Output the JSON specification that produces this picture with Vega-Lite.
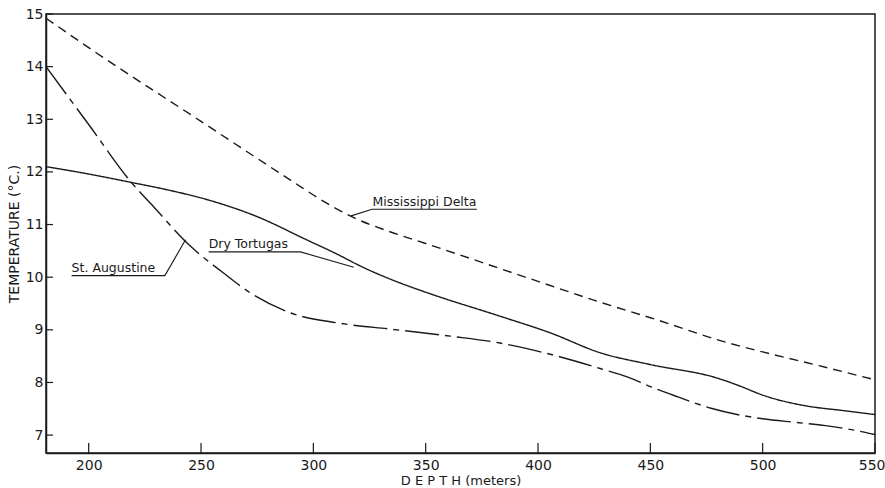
{
  "$schema": "https://vega.github.io/schema/vega-lite/v6.json",
  "width": 829,
  "height": 439,
  "autosize": {"type": "none"},
  "padding": {"left": 46, "top": 14, "right": 10, "bottom": 35},
  "background": "white",
  "config": {
    "font": "DejaVu Sans",
    "view": {"stroke": "#1a1a1a", "strokeWidth": 1.5},
    "axis": {
      "grid": false,
      "ticks": false,
      "domainColor": "#1a1a1a",
      "domainWidth": 1.5,
      "labelColor": "#1a1a1a",
      "labelFontSize": 14,
      "labelFlush": false,
      "labelOverlap": false,
      "titleColor": "#1a1a1a",
      "titleFontWeight": "normal"
    }
  },
  "datasets": {
    "curves": [
      {"series": "Mississippi Delta", "depth": 181, "temp": 14.92},
      {"series": "Mississippi Delta", "depth": 200, "temp": 14.36},
      {"series": "Mississippi Delta", "depth": 250, "temp": 12.96},
      {"series": "Mississippi Delta", "depth": 290, "temp": 11.84},
      {"series": "Mississippi Delta", "depth": 305, "temp": 11.43},
      {"series": "Mississippi Delta", "depth": 318, "temp": 11.13},
      {"series": "Mississippi Delta", "depth": 333, "temp": 10.88},
      {"series": "Mississippi Delta", "depth": 350, "temp": 10.64},
      {"series": "Mississippi Delta", "depth": 400, "temp": 9.92},
      {"series": "Mississippi Delta", "depth": 428, "temp": 9.52},
      {"series": "Mississippi Delta", "depth": 450, "temp": 9.23},
      {"series": "Mississippi Delta", "depth": 484, "temp": 8.76},
      {"series": "Mississippi Delta", "depth": 500, "temp": 8.58},
      {"series": "Mississippi Delta", "depth": 525, "temp": 8.32},
      {"series": "Mississippi Delta", "depth": 550, "temp": 8.05},
      {"series": "Dry Tortugas", "depth": 181, "temp": 12.1},
      {"series": "Dry Tortugas", "depth": 200, "temp": 11.96},
      {"series": "Dry Tortugas", "depth": 219, "temp": 11.8},
      {"series": "Dry Tortugas", "depth": 235, "temp": 11.66},
      {"series": "Dry Tortugas", "depth": 253, "temp": 11.47},
      {"series": "Dry Tortugas", "depth": 275, "temp": 11.15},
      {"series": "Dry Tortugas", "depth": 297, "temp": 10.71},
      {"series": "Dry Tortugas", "depth": 310, "temp": 10.45},
      {"series": "Dry Tortugas", "depth": 322, "temp": 10.19},
      {"series": "Dry Tortugas", "depth": 335, "temp": 9.95},
      {"series": "Dry Tortugas", "depth": 351, "temp": 9.7},
      {"series": "Dry Tortugas", "depth": 383, "temp": 9.26},
      {"series": "Dry Tortugas", "depth": 405, "temp": 8.95},
      {"series": "Dry Tortugas", "depth": 428, "temp": 8.56},
      {"series": "Dry Tortugas", "depth": 450, "temp": 8.34},
      {"series": "Dry Tortugas", "depth": 480, "temp": 8.08},
      {"series": "Dry Tortugas", "depth": 490, "temp": 7.93},
      {"series": "Dry Tortugas", "depth": 500, "temp": 7.76},
      {"series": "Dry Tortugas", "depth": 520, "temp": 7.55},
      {"series": "Dry Tortugas", "depth": 535, "temp": 7.47},
      {"series": "Dry Tortugas", "depth": 550, "temp": 7.39},
      {"series": "St. Augustine", "depth": 181, "temp": 14.0},
      {"series": "St. Augustine", "depth": 200, "temp": 12.9},
      {"series": "St. Augustine", "depth": 219, "temp": 11.8},
      {"series": "St. Augustine", "depth": 228, "temp": 11.38},
      {"series": "St. Augustine", "depth": 245, "temp": 10.6},
      {"series": "St. Augustine", "depth": 260, "temp": 10.08},
      {"series": "St. Augustine", "depth": 272, "temp": 9.7},
      {"series": "St. Augustine", "depth": 290, "temp": 9.32},
      {"series": "St. Augustine", "depth": 311, "temp": 9.13},
      {"series": "St. Augustine", "depth": 335, "temp": 9.01},
      {"series": "St. Augustine", "depth": 361, "temp": 8.88},
      {"series": "St. Augustine", "depth": 383, "temp": 8.75},
      {"series": "St. Augustine", "depth": 405, "temp": 8.54},
      {"series": "St. Augustine", "depth": 428, "temp": 8.26},
      {"series": "St. Augustine", "depth": 440, "temp": 8.1},
      {"series": "St. Augustine", "depth": 450, "temp": 7.92},
      {"series": "St. Augustine", "depth": 462, "temp": 7.73},
      {"series": "St. Augustine", "depth": 477, "temp": 7.51},
      {"series": "St. Augustine", "depth": 490, "temp": 7.38},
      {"series": "St. Augustine", "depth": 500, "temp": 7.31},
      {"series": "St. Augustine", "depth": 515, "temp": 7.24},
      {"series": "St. Augustine", "depth": 528, "temp": 7.18},
      {"series": "St. Augustine", "depth": 540, "temp": 7.1},
      {"series": "St. Augustine", "depth": 550, "temp": 7.01}
    ],
    "leaders": [
      {"label": "Mississippi Delta", "ord": 1, "depth": 316.5, "temp": 11.16},
      {"label": "Mississippi Delta", "ord": 2, "depth": 326.1, "temp": 11.29},
      {"label": "Mississippi Delta", "ord": 3, "depth": 372.8, "temp": 11.29},
      {"label": "Dry Tortugas", "ord": 1, "depth": 253.4, "temp": 10.48},
      {"label": "Dry Tortugas", "ord": 2, "depth": 294.3, "temp": 10.48},
      {"label": "Dry Tortugas", "ord": 3, "depth": 318.0, "temp": 10.19},
      {"label": "St. Augustine", "ord": 1, "depth": 192.4, "temp": 10.03},
      {"label": "St. Augustine", "ord": 2, "depth": 233.9, "temp": 10.03},
      {"label": "St. Augustine", "ord": 3, "depth": 243.1, "temp": 10.71}
    ],
    "labels": [
      {"label": "Mississippi  Delta", "depth": 326.3, "temp": 11.35},
      {"label": "Dry  Tortugas", "depth": 253.4, "temp": 10.55},
      {"label": "St.  Augustine", "depth": 192.4, "temp": 10.09}
    ],
    "xticks": [
      {"depth": 200}, {"depth": 250}, {"depth": 300}, {"depth": 350},
      {"depth": 400}, {"depth": 450}, {"depth": 500}, {"depth": 550}
    ],
    "yticks": [
      {"temp": 7}, {"temp": 8}, {"temp": 9}, {"temp": 10}, {"temp": 11},
      {"temp": 12}, {"temp": 13}, {"temp": 14}, {"temp": 15}
    ]
  },
  "layer": [
    {
      "data": {"name": "curves"},
      "mark": {"type": "line", "interpolate": "monotone", "stroke": "#1a1a1a", "strokeWidth": 1.4},
      "encoding": {
        "x": {
          "field": "depth",
          "type": "quantitative",
          "scale": {"domain": [181, 550], "nice": false, "zero": false},
          "axis": {
            "values": [200, 250, 300, 350, 400, 450, 500, 550],
            "title": "D E P T H   (meters)",
            "titleFontSize": 13,
            "titlePadding": 2,
            "labelPadding": 5,
            "labelFlush": 1,
            "labelFlushOffset": 10
          }
        },
        "y": {
          "field": "temp",
          "type": "quantitative",
          "scale": {"domain": [6.66, 15], "nice": false, "zero": false},
          "axis": {
            "values": [7, 8, 9, 10, 11, 12, 13, 14, 15],
            "title": "TEMPERATURE  (°C.)",
            "titleFontSize": 14,
            "titlePadding": 4,
            "labelPadding": 3
          }
        },
        "strokeDash": {
          "field": "series",
          "type": "nominal",
          "scale": {
            "domain": ["Mississippi Delta", "Dry Tortugas", "St. Augustine"],
            "range": [[9, 6], [1, 0], [34, 6, 6, 6]]
          },
          "legend": null
        }
      }
    },
    {
      "data": {"name": "xticks"},
      "mark": {"type": "rule", "color": "#1a1a1a", "strokeWidth": 1.2},
      "encoding": {
        "x": {"field": "depth", "type": "quantitative"},
        "y": {"datum": 6.66, "type": "quantitative"},
        "y2": {"datum": 6.85}
      }
    },
    {
      "data": {"name": "yticks"},
      "mark": {"type": "rule", "color": "#1a1a1a", "strokeWidth": 1.2},
      "encoding": {
        "y": {"field": "temp", "type": "quantitative"},
        "x": {"datum": 181, "type": "quantitative"},
        "x2": {"datum": 184.1}
      }
    },
    {
      "data": {"name": "leaders"},
      "mark": {"type": "line", "stroke": "#1a1a1a", "strokeWidth": 1.1},
      "encoding": {
        "x": {"field": "depth", "type": "quantitative"},
        "y": {"field": "temp", "type": "quantitative"},
        "detail": {"field": "label", "type": "nominal"},
        "order": {"field": "ord", "type": "quantitative"}
      }
    },
    {
      "data": {"name": "labels"},
      "mark": {"type": "text", "align": "left", "baseline": "alphabetic", "fontSize": 12.5, "color": "#1a1a1a"},
      "encoding": {
        "x": {"field": "depth", "type": "quantitative"},
        "y": {"field": "temp", "type": "quantitative"},
        "text": {"field": "label", "type": "nominal"}
      }
    }
  ]
}
